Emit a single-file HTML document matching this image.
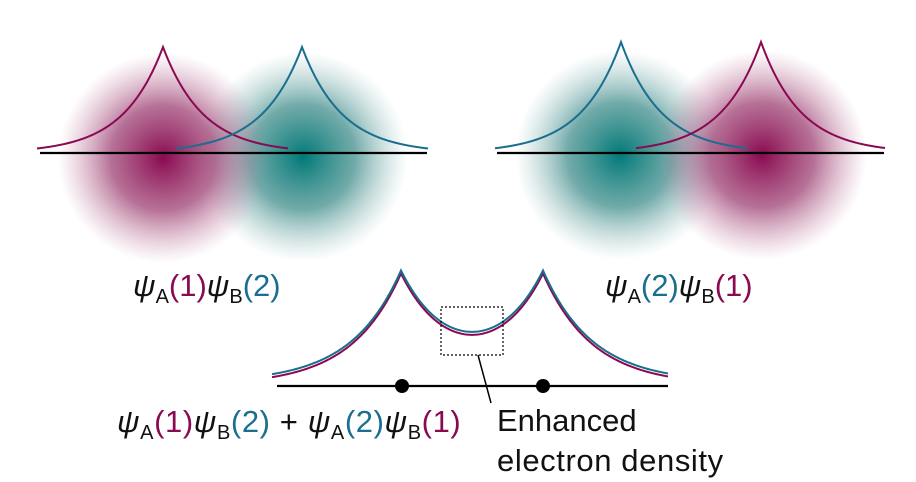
<!DOCTYPE html>
<html><head><meta charset="utf-8"><style>
html,body{margin:0;padding:0;background:#fff;}
svg{display:block;}
text{font-family:"Liberation Sans",sans-serif;}
</style></head><body>
<svg id="s" width="916" height="482" viewBox="0 0 916 482" xmlns="http://www.w3.org/2000/svg">
<defs>
<radialGradient id="gm"><stop offset="0" stop-color="#8a0a52" stop-opacity="1"/><stop offset="0.5" stop-color="#9a3a6e" stop-opacity="0.72"/><stop offset="1" stop-color="#c07ca0" stop-opacity="0"/></radialGradient>
<radialGradient id="gt"><stop offset="0" stop-color="#007a78" stop-opacity="1"/><stop offset="0.5" stop-color="#3a8a88" stop-opacity="0.72"/><stop offset="1" stop-color="#90b8b8" stop-opacity="0"/></radialGradient>
</defs>
<circle cx="303" cy="157" r="105" fill="url(#gt)"/>
<circle cx="163" cy="158" r="105" fill="url(#gm)"/>
<circle cx="620" cy="155" r="105" fill="url(#gt)"/>
<circle cx="762" cy="155" r="105" fill="url(#gm)"/>
<g id="curves" fill="none" stroke-width="2"></g>
<line x1="40" y1="153" x2="427" y2="153" stroke="#000" stroke-width="2.2"/>
<line x1="497" y1="153" x2="884" y2="153" stroke="#000" stroke-width="2.2"/>
<line x1="277" y1="386" x2="668" y2="386" stroke="#000" stroke-width="2.2"/>
<circle cx="402" cy="386" r="7" fill="#000"/>
<circle cx="543" cy="386" r="7" fill="#000"/>
<rect x="441" y="307" width="62" height="48" fill="none" stroke="#000" stroke-width="1.2" stroke-dasharray="2,2"/>
<line x1="478" y1="355" x2="491" y2="403" stroke="#000" stroke-width="1.5"/>
<text x="133" y="296" font-size="31" fill="#111"><tspan font-style="italic">ψ</tspan><tspan font-size="20" dy="7">A</tspan><tspan dy="-7" fill="#8a0a52">(1)</tspan><tspan font-style="italic">ψ</tspan><tspan font-size="20" dy="7">B</tspan><tspan dy="-7" fill="#1a6e8e">(2)</tspan></text>
<text x="605" y="296" font-size="31" fill="#111"><tspan font-style="italic">ψ</tspan><tspan font-size="20" dy="7">A</tspan><tspan dy="-7" fill="#1a6e8e">(2)</tspan><tspan font-style="italic">ψ</tspan><tspan font-size="20" dy="7">B</tspan><tspan dy="-7" fill="#8a0a52">(1)</tspan></text>
<text x="117" y="432" font-size="31" letter-spacing="0.6" fill="#111"><tspan font-style="italic">ψ</tspan><tspan font-size="20" dy="7">A</tspan><tspan dy="-7" fill="#8a0a52">(1)</tspan><tspan font-style="italic">ψ</tspan><tspan font-size="20" dy="7">B</tspan><tspan dy="-7" fill="#1a6e8e">(2)</tspan><tspan> + </tspan><tspan font-style="italic">ψ</tspan><tspan font-size="20" dy="7">A</tspan><tspan dy="-7" fill="#1a6e8e">(2)</tspan><tspan font-style="italic">ψ</tspan><tspan font-size="20" dy="7">B</tspan><tspan dy="-7" fill="#8a0a52">(1)</tspan></text>
<text x="497" y="431" font-size="31" fill="#111">Enhanced</text>
<text x="497" y="471" font-size="31" letter-spacing="0.6" fill="#111">electron density</text>
</svg>
<script>
var g=document.getElementById('curves');
function add(d,c,w){var p=document.createElementNS('http://www.w3.org/2000/svg','path');p.setAttribute('d',d);p.setAttribute('stroke',c);p.setAttribute('stroke-width',w||2);g.appendChild(p);}
function single(c,x0,x1,base,H,w){var d='';for(var x=x0;x<=x1;x+=1){var y=base-H*Math.exp(-Math.abs(x-c)/w);d+=(x==x0?'M':'L')+x+' '+y.toFixed(2);}return d;}
add(single(163,37,288,153,106,40),'#8a0a52');
add(single(302,176,428,153,106,40),'#1a6e8e');
add(single(621,495,748,153,111,40),'#1a6e8e');
add(single(761,636,885,153,111,40),'#8a0a52');
function dbl(off){var d='';for(var x=272;x<=668;x+=1){var y=384+off-106*(Math.exp(-Math.abs(x-401)/49.6)+Math.exp(-Math.abs(x-543)/49.6));d+=(x==272?'M':'L')+x+' '+y.toFixed(2);}return d;}
add(dbl(1.5),'#8a0a52',2);
add(dbl(-1.5),'#1a6e8e',2);
</script>
</body></html>
